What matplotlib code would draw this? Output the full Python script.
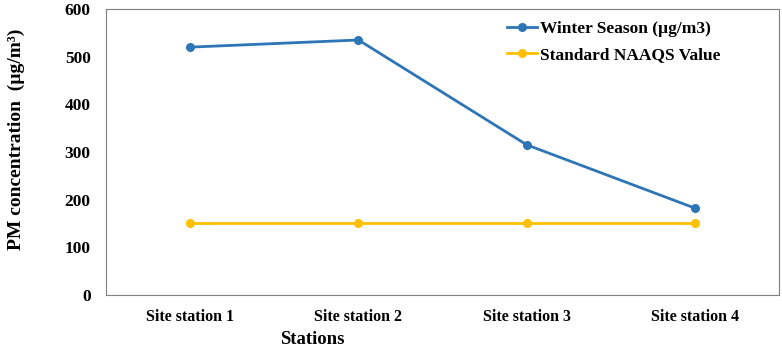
import matplotlib
matplotlib.use("Agg")
import matplotlib.pyplot as plt

# data
stations = ["Site station 1", "Site station 2", "Site station 3", "Site station 4"]
winter = [520, 535, 315, 182]
naaqs = [150, 150, 150, 150]

plt.rcParams['font.family'] = ['Liberation Serif', 'DejaVu Serif']
plt.rcParams['font.weight'] = 'bold'

fig = plt.figure(figsize=(7.82, 3.47), dpi=100)
ax = fig.add_axes([0.1355, 0.150, 0.861, 0.824])

x = range(len(stations))
ax.plot(x, winter, color="#2E75B6", marker="o", markersize=5.5, linewidth=2, label="Winter Season (\u00b5g/m3)")
ax.plot(x, naaqs, color="#FFC000", marker="o", markersize=5.5, linewidth=2, label="Standard NAAQS Value")

ax.set_xlim(-0.5, 3.5)
ax.set_ylim(0, 600)
ax.set_yticks(range(0, 601, 100))
ax.set_xticks(list(x))
ax.set_xticklabels(stations, fontsize=11.5, fontweight="bold")
ax.tick_params(axis="x", length=0, pad=10)
ax.tick_params(axis="y", length=0, labelsize=12.5, pad=11)
for lbl in ax.get_yticklabels():
    lbl.set_fontweight("bold")

for s in ax.spines.values():
    s.set_color("#7f7f7f")

ax.set_xlabel("Stations", fontsize=13.5, fontweight="bold")
ax.xaxis.set_label_coords(0.306, -0.125)
ax.set_ylabel("PM concentration  (\u00b5g/m\u00b3)", fontsize=14, fontweight="bold")
ax.yaxis.set_label_coords(-0.12, 0.545)

ax.legend(loc="upper left", frameon=False, prop={"weight": "bold", "size": 12.5},
          bbox_to_anchor=(0.595, 0.958), borderaxespad=0, borderpad=0,
          handlelength=1.75, handletextpad=0.2, labelspacing=0.55)

fig.savefig("out.png", dpi=100)
